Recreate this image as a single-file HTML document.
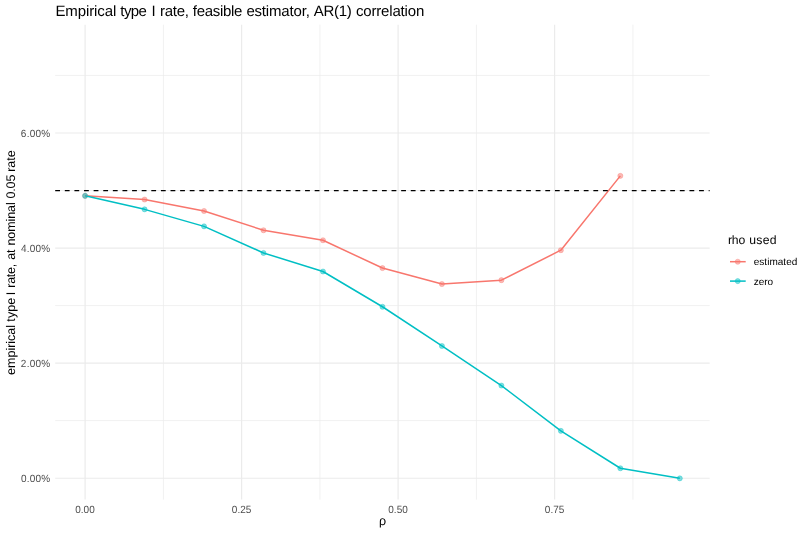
<!DOCTYPE html>
<html><head><meta charset="utf-8"><title>Empirical type I rate</title>
<style>html,body{margin:0;padding:0;background:#fff;}body{width:810px;height:537px;overflow:hidden;font-family:"Liberation Sans",sans-serif;}svg{display:block;will-change:transform;}text{font-family:"Liberation Sans",sans-serif;white-space:pre;text-rendering:geometricPrecision;}</style></head><body>
<svg width="810" height="537" viewBox="0 0 810 537">
<g stroke="#EBEBEB" stroke-width="0.7" fill="none">
<line x1="55.2" x2="709.65" y1="75.45" y2="75.45"/>
<line x1="55.2" x2="709.65" y1="190.5" y2="190.5"/>
<line x1="55.2" x2="709.65" y1="305.55" y2="305.55"/>
<line x1="55.2" x2="709.65" y1="420.6" y2="420.6"/>
<line x1="163.45" x2="163.45" y1="24.7" y2="499.6"/>
<line x1="319.95" x2="319.95" y1="24.7" y2="499.6"/>
<line x1="476.45" x2="476.45" y1="24.7" y2="499.6"/>
<line x1="632.95" x2="632.95" y1="24.7" y2="499.6"/>
</g>
<g stroke="#EBEBEB" stroke-width="1.2" fill="none">
<line x1="55.2" x2="709.65" y1="132.98" y2="132.98"/>
<line x1="55.2" x2="709.65" y1="248.07" y2="248.07"/>
<line x1="55.2" x2="709.65" y1="363.15" y2="363.15"/>
<line x1="55.2" x2="709.65" y1="478.25" y2="478.25"/>
<line x1="85.1" x2="85.1" y1="24.7" y2="499.6"/>
<line x1="241.6" x2="241.6" y1="24.7" y2="499.6"/>
<line x1="398.1" x2="398.1" y1="24.7" y2="499.6"/>
<line x1="554.6" x2="554.6" y1="24.7" y2="499.6"/>
</g>
<g fill="#F8766D" fill-opacity="0.5" stroke="#F8766D" stroke-opacity="0.5" stroke-width="0.7">
<circle cx="85.10" cy="195.85" r="2.55"/>
<circle cx="144.57" cy="199.55" r="2.55"/>
<circle cx="204.04" cy="210.95" r="2.55"/>
<circle cx="263.51" cy="230.25" r="2.55"/>
<circle cx="322.98" cy="240.25" r="2.55"/>
<circle cx="382.45" cy="268.05" r="2.55"/>
<circle cx="441.92" cy="284.05" r="2.55"/>
<circle cx="501.39" cy="280.15" r="2.55"/>
<circle cx="560.86" cy="250.20" r="2.55"/>
<circle cx="620.33" cy="175.85" r="2.55"/>
</g>
<g fill="#00BFC4" fill-opacity="0.5" stroke="#00BFC4" stroke-opacity="0.5" stroke-width="0.7">
<circle cx="85.10" cy="195.85" r="2.55"/>
<circle cx="144.57" cy="209.35" r="2.55"/>
<circle cx="204.04" cy="226.35" r="2.55"/>
<circle cx="263.51" cy="252.95" r="2.55"/>
<circle cx="322.98" cy="271.50" r="2.55"/>
<circle cx="382.45" cy="306.75" r="2.55"/>
<circle cx="441.92" cy="345.95" r="2.55"/>
<circle cx="501.39" cy="385.55" r="2.55"/>
<circle cx="560.86" cy="430.85" r="2.55"/>
<circle cx="620.33" cy="468.25" r="2.55"/>
<circle cx="679.80" cy="478.35" r="2.55"/>
</g>
<polyline points="85.10,195.85 144.57,199.55 204.04,210.95 263.51,230.25 322.98,240.25 382.45,268.05 441.92,284.05 501.39,280.15 560.86,250.20 620.33,175.85" fill="none" stroke="#F8766D" stroke-width="1.5" stroke-linejoin="round"/>
<polyline points="85.10,195.85 144.57,209.35 204.04,226.35 263.51,252.95 322.98,271.50 382.45,306.75 441.92,345.95 501.39,385.55 560.86,430.85 620.33,468.25 679.80,478.35" fill="none" stroke="#00BFC4" stroke-width="1.5" stroke-linejoin="round"/>
<line x1="55.2" x2="709.65" y1="190.53" y2="190.53" stroke="#000" stroke-width="1.25" stroke-dasharray="4.805 4.805"/>
<text x="55.4" y="15.8" font-size="15px" fill="#000" letter-spacing="-0.091px">Empirical</text>
<text x="120.35" y="15.8" font-size="15px" fill="#000" letter-spacing="-0.625px">type</text>
<text x="151.39" y="15.8" font-size="15px" fill="#000" letter-spacing="0.0px">I</text>
<text x="160.0" y="15.8" font-size="15px" fill="#000" letter-spacing="-0.281px">rate,</text>
<text x="192.85" y="15.8" font-size="15px" fill="#000" letter-spacing="-0.307px">feasible</text>
<text x="246.38" y="15.8" font-size="15px" fill="#000" letter-spacing="-0.178px">estimator,</text>
<text x="313.8" y="15.8" font-size="15px" fill="#000" letter-spacing="-0.288px">AR(1)</text>
<text x="355.88" y="15.8" font-size="15px" fill="#000" letter-spacing="-0.163px">correlation</text>
<g transform="translate(15.2,374.4) rotate(-90)">
<text x="-0.5" y="0" font-size="12.5px" fill="#000" letter-spacing="-0.006px">empirical</text>
<text x="52.75" y="0" font-size="12.5px" fill="#000" letter-spacing="0.058px">type</text>
<text x="79.28" y="0" font-size="12.5px" fill="#000" letter-spacing="0.0px">I</text>
<text x="86.62" y="0" font-size="12.5px" fill="#000" letter-spacing="-0.225px">rate,</text>
<text x="114.7" y="0" font-size="12.5px" fill="#000" letter-spacing="-0.175px">at</text>
<text x="128.82" y="0" font-size="12.5px" fill="#000" letter-spacing="-0.071px">nominal</text>
<text x="175.85" y="0" font-size="12.5px" fill="#000" letter-spacing="-0.133px">0.05</text>
<text x="202.62" y="0" font-size="12.5px" fill="#000" letter-spacing="-0.008px">rate</text>
</g>
<text x="727.92" y="244.15" font-size="12.2px" fill="#000" letter-spacing="-0.125px">rho</text>
<text x="749.25" y="244.15" font-size="12.2px" fill="#000" letter-spacing="0.308px">used</text>
<text x="753.73" y="265.2" font-size="10px" fill="#000" letter-spacing="0.028px">estimated</text>
<text x="753.73" y="284.55" font-size="10px" fill="#000" letter-spacing="-0.042px">zero</text>
<text transform="translate(0,136.58) scale(1,1.05)" x="20.85" y="0" font-size="10px" fill="#4D4D4D" letter-spacing="0.225px">6.00%</text>
<text transform="translate(0,251.67) scale(1,1.05)" x="21.1" y="0" font-size="10px" fill="#4D4D4D" letter-spacing="0.162px">4.00%</text>
<text transform="translate(0,366.75) scale(1,1.05)" x="20.85" y="0" font-size="10px" fill="#4D4D4D" letter-spacing="0.225px">2.00%</text>
<text transform="translate(0,481.85) scale(1,1.05)" x="20.98" y="0" font-size="10px" fill="#4D4D4D" letter-spacing="0.194px">0.00%</text>
<text transform="translate(0,513.0) scale(1,1.05)" x="75.32" y="0" font-size="10px" fill="#4D4D4D" letter-spacing="-0.017px">0.00</text>
<text transform="translate(0,513.0) scale(1,1.05)" x="231.82" y="0" font-size="10px" fill="#4D4D4D" letter-spacing="0.025px">0.25</text>
<text transform="translate(0,513.0) scale(1,1.05)" x="388.33" y="0" font-size="10px" fill="#4D4D4D" letter-spacing="-0.017px">0.50</text>
<text transform="translate(0,513.0) scale(1,1.05)" x="544.83" y="0" font-size="10px" fill="#4D4D4D" letter-spacing="0.025px">0.75</text>
<text x="382.5" y="525.4" font-size="12.5px" fill="#000" text-anchor="middle">ρ</text>
<circle cx="737.75" cy="261.7" r="2.55" fill="#F8766D" fill-opacity="0.5" stroke="#F8766D" stroke-opacity="0.5" stroke-width="0.7"/>
<line x1="730.0" x2="745.7" y1="261.7" y2="261.7" stroke="#F8766D" stroke-width="1.5"/>
<circle cx="737.75" cy="281.1" r="2.55" fill="#00BFC4" fill-opacity="0.5" stroke="#00BFC4" stroke-opacity="0.5" stroke-width="0.7"/>
<line x1="730.0" x2="745.7" y1="281.1" y2="281.1" stroke="#00BFC4" stroke-width="1.5"/>
</svg></body></html>
